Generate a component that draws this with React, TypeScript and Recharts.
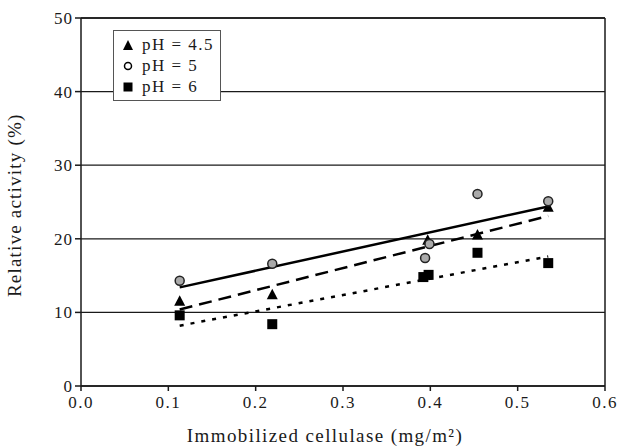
import { ComposedChart, Scatter, XAxis, YAxis, CartesianGrid, ReferenceLine } from 'recharts'

const xTicks = [0, 0.1, 0.2, 0.3, 0.4, 0.5, 0.6]
const yTicks = [0, 10, 20, 30, 40, 50]

// measured points
const ph45 = [
  { x: 0.113, y: 11.5 },
  { x: 0.219, y: 12.4 },
  { x: 0.397, y: 19.8 },
  { x: 0.454, y: 20.5 },
  { x: 0.535, y: 24.3 }
]
const ph5 = [
  { x: 0.113, y: 14.3 },
  { x: 0.219, y: 16.6 },
  { x: 0.394, y: 17.4 },
  { x: 0.399, y: 19.3 },
  { x: 0.454, y: 26.1 },
  { x: 0.535, y: 25.1 }
]
const ph6 = [
  { x: 0.113, y: 9.6 },
  { x: 0.219, y: 8.4 },
  { x: 0.392, y: 14.8 },
  { x: 0.398, y: 15.1 },
  { x: 0.454, y: 18.1 },
  { x: 0.535, y: 16.7 }
]

// fitted trend lines (end points)
const fit5 = [
  { x: 0.113, y: 13.4 },
  { x: 0.535, y: 24.4 }
]
const fit45 = [
  { x: 0.113, y: 10.4 },
  { x: 0.535, y: 23.1 }
]
const fit6 = [
  { x: 0.113, y: 8.2 },
  { x: 0.535, y: 17.6 }
]

const legendItems = ['pH = 4.5', 'pH = 5', 'pH = 6']

const font = '"Liberation Serif", "DejaVu Serif", serif'
const ink = '#1a1a1a'

function Triangle({ cx, cy }: any) {
  return <polygon points={`${cx},${cy - 6} ${cx - 5.5},${cy + 4.5} ${cx + 5.5},${cy + 4.5}`} fill="#000" />
}
function Circle({ cx, cy }: any) {
  return <circle cx={cx} cy={cy} r={4.5} fill="#aaa" stroke="#222" strokeWidth={1.5} />
}
function Square({ cx, cy }: any) {
  return <rect x={cx - 5} y={cy - 5} width={10} height={10} fill="#000" />
}
const NoDot = () => <g />

function LegendBox() {
  const icons = [
    <polygon points="6,1 1,11 11,11" fill="#000" />,
    <circle cx={6} cy={6} r={3.5} fill="#fff" stroke="#000" strokeWidth={1.5} />,
    <rect x={1.5} y={1.5} width={9} height={9} fill="#000" />
  ]
  return (
    <div
      style={{
        position: 'absolute',
        left: 113,
        top: 30,
        border: '1.5px solid #555',
        background: '#fff',
        width: 98,
        padding: '3px 0 3px 8px',
        fontFamily: font,
        fontSize: 17,
        letterSpacing: 1.5,
        lineHeight: '21px',
        color: ink
      }}
    >
      {legendItems.map((label, i) => (
        <div key={label} style={{ display: 'flex', alignItems: 'center' }}>
          <svg width={12} height={12} style={{ marginRight: 8 }}>
            {icons[i]}
          </svg>
          <span>{label}</span>
        </div>
      ))}
    </div>
  )
}

export default function App() {
  return (
    <div style={{ position: 'absolute', left: 0, top: 0, width: 618, height: 447, background: '#fff' }}>
      <ComposedChart width={618} height={447} margin={{ top: 18, right: 13, bottom: 0, left: 0 }}>
        <CartesianGrid vertical={false} stroke={ink} strokeWidth={1.3} />
        <XAxis
          type="number"
          dataKey="x"
          domain={[0, 0.6]}
          ticks={xTicks}
          tickFormatter={(v: number) => v.toFixed(1)}
          height={61}
          stroke={ink}
          strokeWidth={1.5}
          tickSize={5}
          tickMargin={5}
          tick={{ fill: ink, fontFamily: font, fontSize: 17, letterSpacing: 1.5 }}
          label={{
            value: 'Immobilized cellulase (mg/m²)',
            position: 'insideBottom',
            offset: 5,
            dx: -18,
            fill: ink,
            fontFamily: font,
            fontSize: 19,
            letterSpacing: 1.4
          }}
        />
        <YAxis
          type="number"
          dataKey="y"
          domain={[0, 50]}
          ticks={yTicks}
          width={81}
          stroke={ink}
          strokeWidth={1.5}
          tickSize={6}
          tickMargin={2}
          tick={{ fill: ink, fontFamily: font, fontSize: 17, letterSpacing: 1 }}
          label={{
            value: 'Relative activity (%)',
            angle: -90,
            position: 'insideLeft',
            offset: 14,
            dy: 95,
            fill: ink,
            fontFamily: font,
            fontSize: 19,
            letterSpacing: 1.2
          }}
        />
        <ReferenceLine x={0.6} stroke={ink} strokeWidth={1.5} />
        <ReferenceLine y={50} stroke={ink} strokeWidth={1.5} />
        <Scatter data={fit5} line={{ stroke: '#000', strokeWidth: 2.5 }} shape={NoDot} isAnimationActive={false} />
        <Scatter
          data={fit45}
          line={{ stroke: '#000', strokeWidth: 2.5, strokeDasharray: '13 7' }}
          shape={NoDot}
          isAnimationActive={false}
        />
        <Scatter
          data={fit6}
          line={{ stroke: '#000', strokeWidth: 2.5, strokeDasharray: '4 7' }}
          shape={NoDot}
          isAnimationActive={false}
        />
        <Scatter name="pH = 4.5" data={ph45} shape={Triangle} isAnimationActive={false} />
        <Scatter name="pH = 5" data={ph5} shape={Circle} isAnimationActive={false} />
        <Scatter name="pH = 6" data={ph6} shape={Square} isAnimationActive={false} />
      </ComposedChart>
      <LegendBox />
    </div>
  )
}
